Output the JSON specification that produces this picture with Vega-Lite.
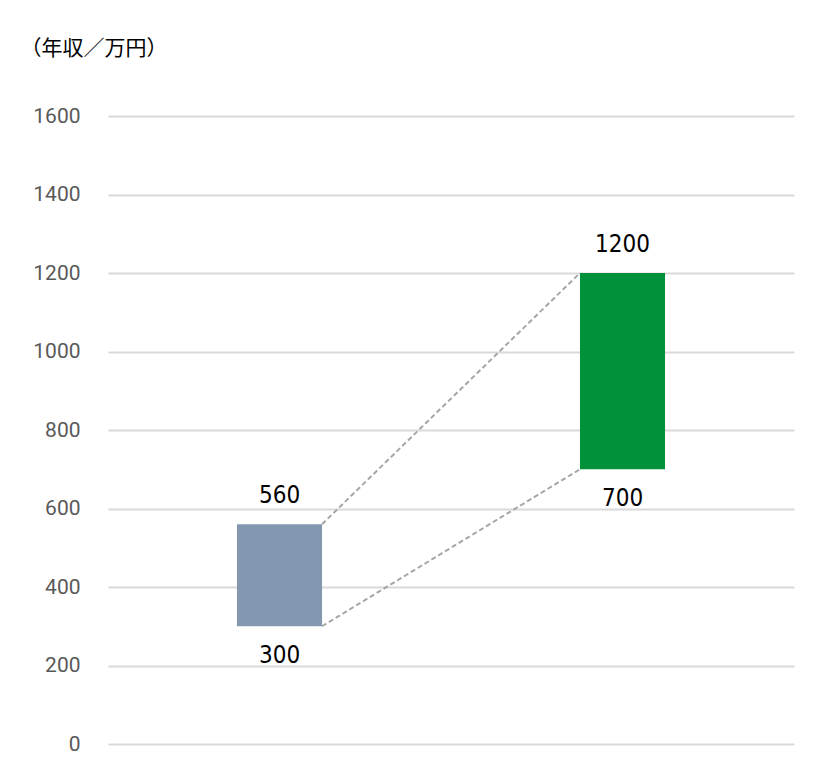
{
  "$schema": "https://vega.github.io/schema/vega-lite/v6.json",
  "width": 686,
  "height": 628,
  "autosize": {"type": "none"},
  "padding": {"left": 108, "top": 116, "right": 22, "bottom": 28},
  "background": "white",
  "config": {"view": {"stroke": null}},
  "datasets": {
    "bars": [
      {"group": "現在", "x0": 0.376, "x1": 0.624, "xc": 0.5, "low": 300, "high": 560},
      {"group": "転職後", "x0": 1.376, "x1": 1.624, "xc": 1.5, "low": 700, "high": 1200}
    ],
    "links": [
      {"edge": "top", "x": 0.624, "y": 560},
      {"edge": "top", "x": 1.376, "y": 1200},
      {"edge": "bottom", "x": 0.624, "y": 300},
      {"edge": "bottom", "x": 1.376, "y": 700}
    ]
  },
  "layer": [
    {
      "data": {"name": "links"},
      "mark": {"type": "line", "strokeDash": [5, 3], "strokeWidth": 2, "color": "#a6a6a6"},
      "encoding": {
        "x": {"field": "x", "type": "quantitative", "scale": {"domain": [0, 2]}, "axis": null},
        "y": {"field": "y", "type": "quantitative", "scale": {"domain": [0, 1600]},
          "axis": {"values": [0, 200, 400, 600, 800, 1000, 1200, 1400, 1600], "format": "d", "domain": false, "ticks": false,
            "gridColor": "#d9d9d9", "gridWidth": 2, "labelPadding": 28, "labelFont": "Roboto", "labelFontSize": 21,
            "labelColor": "#595959", "title": "（年収／万円）", "titleAngle": 0, "titleAlign": "left",
            "titleBaseline": "middle", "titleX": -88, "titleY": -68, "titleFont": "Noto Sans CJK JP",
            "titleFontSize": 21, "titleFontWeight": "normal", "titleColor": "#000000"}},
        "detail": {"field": "edge", "type": "nominal"}
      }
    },
    {
      "data": {"name": "bars"},
      "mark": {"type": "rect"},
      "encoding": {
        "x": {"field": "x0", "type": "quantitative"},
        "x2": {"field": "x1"},
        "y": {"field": "low", "type": "quantitative"},
        "y2": {"field": "high"},
        "color": {"field": "group", "type": "nominal", "scale": {"domain": ["現在", "転職後"], "range": ["#8497b0", "#00913a"]}, "legend": null}
      }
    },
    {
      "data": {"name": "bars"},
      "mark": {"type": "text", "dy": -28, "font": "DejaVu Sans Condensed, Liberation Sans, sans-serif", "fontSize": 24, "color": "#000000", "baseline": "middle"},
      "encoding": {
        "x": {"field": "xc", "type": "quantitative"},
        "y": {"field": "high", "type": "quantitative"},
        "text": {"field": "high", "type": "quantitative"}
      }
    },
    {
      "data": {"name": "bars"},
      "mark": {"type": "text", "dy": 30, "font": "DejaVu Sans Condensed, Liberation Sans, sans-serif", "fontSize": 24, "color": "#000000", "baseline": "middle"},
      "encoding": {
        "x": {"field": "xc", "type": "quantitative"},
        "y": {"field": "low", "type": "quantitative"},
        "text": {"field": "low", "type": "quantitative"}
      }
    }
  ]
}
